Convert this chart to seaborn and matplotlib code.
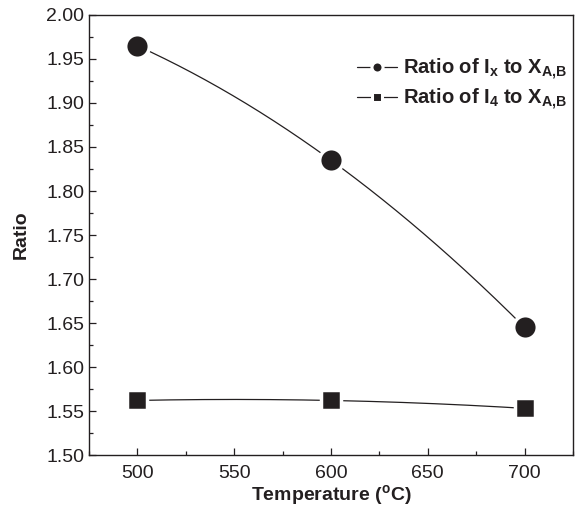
import numpy as np
import pandas as pd
import matplotlib
matplotlib.use("Agg")
import matplotlib.pyplot as plt
from matplotlib.lines import Line2D
from matplotlib.ticker import MultipleLocator
import seaborn as sns

temperature = [500, 600, 700]
ratio_ix = [1.965, 1.835, 1.645]
ratio_i4 = [1.562, 1.562, 1.553]
label_ix = r"Ratio of I$_\mathbf{x}$ to X$_\mathbf{A,\!B}$"
label_i4 = r"Ratio of I$_\mathbf{4}$ to X$_\mathbf{A,\!B}$"

sns.set_style("ticks")
plt.rcParams['font.family'] = ['Liberation Sans', 'DejaVu Sans']
plt.rcParams['mathtext.fontset'] = 'custom'
plt.rcParams['mathtext.rm'] = 'Liberation Sans'
plt.rcParams['mathtext.bf'] = 'Liberation Sans:bold'
plt.rcParams['mathtext.it'] = 'Liberation Sans:italic'

fig = plt.figure(figsize=(5.77, 5.17), dpi=100)
ax = fig.add_axes([0.1542, 0.1199, 0.8388, 0.8511])

ink = "#231f20"

def smooth(xv, yv):
    c = np.polyfit(xv, yv, 2)
    xs = np.linspace(min(xv), max(xv), 200)
    return xs, np.polyval(c, xs)

for yv, mk, ms in [(ratio_ix, 'o', 17), (ratio_i4, 's', 15)]:
    xs, ys = smooth(temperature, yv)
    sns.lineplot(x=xs, y=ys, ax=ax, color=ink, lw=0.9, legend=False)
    ax.plot(temperature, yv, linestyle='none', marker=mk, markersize=ms,
            markerfacecolor=ink, markeredgecolor='white', markeredgewidth=2.5,
            zorder=5)

ax.set_xlim(475, 725)
ax.set_ylim(1.50, 2.00)
ax.xaxis.set_major_locator(MultipleLocator(50))
ax.xaxis.set_minor_locator(MultipleLocator(25))
ax.yaxis.set_major_locator(MultipleLocator(0.05))
ax.yaxis.set_minor_locator(MultipleLocator(0.025))
ax.yaxis.set_major_formatter(matplotlib.ticker.FormatStrFormatter('%.2f'))
ax.tick_params(which='both', direction='in', top=False, right=False,
               color=ink, labelcolor=ink, labelsize=14)
ax.tick_params(which='major', length=5, width=0.9)
ax.tick_params(which='minor', length=3, width=0.9)
ax.tick_params(axis='x', pad=7)
for s in ax.spines.values():
    s.set_color(ink)
    s.set_linewidth(1.0)

ax.set_xlabel("Temperature (" + r"$\mathbf{^o}$" + "C)", fontsize=14, fontweight='bold', color=ink, labelpad=1)
ax.set_ylabel("Ratio", fontsize=14, fontweight='bold', color=ink, labelpad=12)

handles = [
    Line2D([], [], color=ink, lw=0.9, marker='o', markersize=8,
           markerfacecolor=ink, markeredgecolor='white', markeredgewidth=2.2),
    Line2D([], [], color=ink, lw=0.9, marker='s', markersize=7.5,
           markerfacecolor=ink, markeredgecolor='white', markeredgewidth=2.2),
]
leg = ax.legend(handles, [label_ix, label_i4], loc='upper right',
                bbox_to_anchor=(1.026, 0.946), frameon=False, handlelength=2.0,
                handletextpad=0.3, labelspacing=0.25,
                prop={'weight': 'bold', 'size': 14.5})
for t in leg.get_texts():
    t.set_color(ink)

fig.savefig("out.png", dpi=100)
